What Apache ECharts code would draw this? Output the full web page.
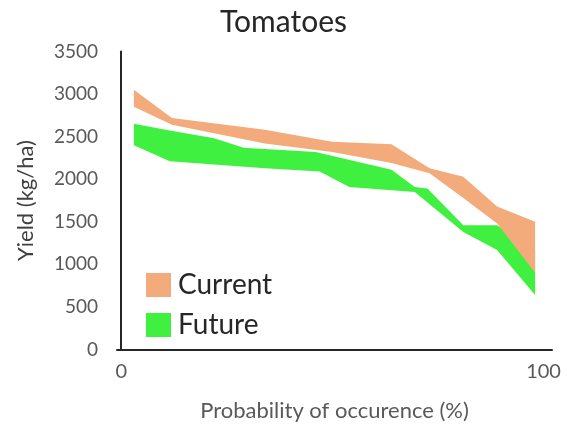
<!DOCTYPE html>
<html>
<head>
<meta charset="utf-8">
<script src="https://cdn.jsdelivr.net/npm/echarts@6/dist/echarts.min.js"></script>
<style>
  html, body { margin: 0; padding: 0; background: #fff; }
  #chart { width: 567px; height: 433px; }
</style>
</head>
<body>
<div id="chart"></div>
<script>
// Yield envelopes (kg/ha) against probability of occurrence (%)
const currentX     = [3, 12, 34, 50, 64, 73, 81, 89, 98];
const currentUpper = [3050, 2720, 2580, 2440, 2410, 2130, 2030, 1680, 1500];
const currentLower = [2850, 2640, 2420, 2320, 2190, 2070, 1780, 1480, 900];

const futureUpperX = [3, 10.5, 22, 29, 46, 64, 69.5, 72.5, 81, 89, 98];
const futureUpper  = [2650, 2580, 2480, 2370, 2320, 2110, 1910, 1890, 1460, 1460, 1170];
const futureLowerX = [3, 11.5, 34, 47, 54, 69.5, 81, 89, 98];
const futureLower  = [2400, 2210, 2130, 2090, 1910, 1850, 1380, 1170, 640];

const xTickValues = [0, 100];
const yTicks = [0, 500, 1000, 1500, 2000, 2500, 3000, 3500];

const FONT = 'Lato, "Open Sans", sans-serif';

// Build a filled band between an upper and a lower polyline
function bandSeries(name, color, upX, upY, loX, loY) {
  return {
    name: name,
    type: 'custom',
    itemStyle: { color: color },
    data: [[upX[0], upY[0]]],
    renderItem: function (params, api) {
      const pts = [];
      for (let i = 0; i < upX.length; i++) pts.push(api.coord([upX[i], upY[i]]));
      for (let i = loX.length - 1; i >= 0; i--) pts.push(api.coord([loX[i], loY[i]]));
      return {
        type: 'polygon',
        shape: { points: pts },
        style: { fill: color }
      };
    }
  };
}

const chart = echarts.init(document.getElementById('chart'), null, { renderer: 'canvas' });
chart.setOption({
  animation: false,
  title: {
    text: 'Tomatoes',
    left: 'center',
    top: 2,
    textStyle: { fontFamily: FONT, fontSize: 30, fontWeight: 'normal', color: '#262626' }
  },
  legend: {
    orient: 'vertical',
    left: 141,
    top: 266,
    itemWidth: 25,
    itemHeight: 24,
    itemGap: 12,
    icon: 'rect',
    data: ['Current', 'Future'],
    textStyle: { fontFamily: FONT, fontSize: 28, color: '#262626', padding: [0, 0, 0, 2] }
  },
  grid: { left: 117, right: 15, top: 51.5, bottom: 83.5, containLabel: false },
  xAxis: {
    type: 'value',
    min: -1,
    max: 102,
    name: 'Probability of occurence (%)',
    nameLocation: 'middle',
    nameGap: 50,
    nameTextStyle: { fontFamily: FONT, fontSize: 22, color: '#595959' },
    splitLine: { show: false },
    axisTick: { show: false },
    axisLine: { show: true, lineStyle: { color: '#262626', width: 2 } },
    axisLabel: {
      customValues: xTickValues,
      fontFamily: FONT, fontSize: 20, color: '#595959', margin: 12
    }
  },
  yAxis: {
    type: 'value',
    min: 0,
    max: 3500,
    interval: 500,
    name: 'Yield (kg/ha)',
    nameLocation: 'middle',
    nameGap: 80,
    nameTextStyle: { fontFamily: FONT, fontSize: 22, color: '#404040' },
    splitLine: { show: false },
    axisTick: { show: false },
    axisLine: { show: true, lineStyle: { color: '#262626', width: 2 } },
    axisLabel: {
      customValues: yTicks,
      formatter: function (v) { return String(v); },
      fontFamily: FONT, fontSize: 19, color: '#595959', margin: 19
    }
  },
  series: [
    bandSeries('Future', '#40F040', futureUpperX, futureUpper, futureLowerX, futureLower),
    bandSeries('Current', '#F3AB7C', currentX, currentUpper, currentX, currentLower)
  ]
});
</script>
</body>
</html>
